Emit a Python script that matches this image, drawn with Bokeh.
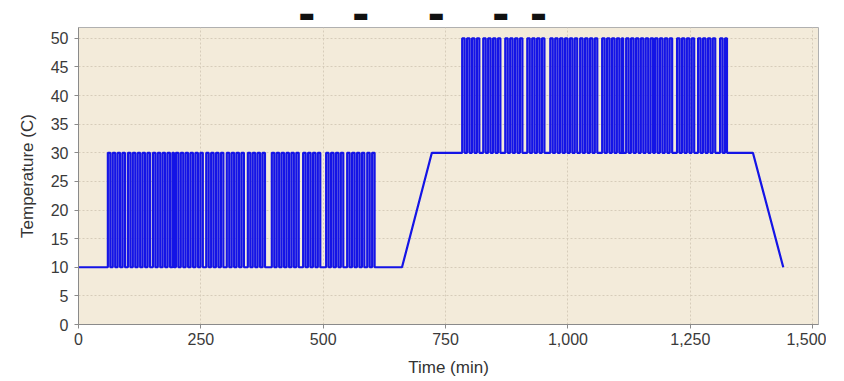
from bokeh.plotting import figure
from bokeh.models import Range1d, NumeralTickFormatter, FixedTicker, Title
from bokeh.embed import file_html
from bokeh.resources import INLINE

# ---- data ----
# cycling block 1 (10 <-> 30 C), start/end of each block of cycles (min)
r1_low, r1_high = 10, 30
r1_starts = [60, 101, 152, 199, 261, 303, 346, 395, 459, 506, 549, 590]
r1_ends = [97, 146, 195, 254, 299, 340, 387, 453, 500, 545, 586, 610]
# cycling block 2 (30 <-> 50 C)
r2_low, r2_high = 30, 50
r2_starts = [784, 827, 872, 917, 964, 1025, 1070, 1119, 1178, 1223, 1266, 1311]
r2_ends = [821, 866, 913, 958, 1019, 1062, 1113, 1174, 1219, 1264, 1305, 1325]
cycle_half_period = 5  # min between switches inside a block
# non-cycling profile points (min, C)
ramp_time = [661, 722, 1378, 1440]
ramp_temp = [10, 30, 30, 10]
start_time, start_temp = 0, 10

x_ticks = [0, 250, 500, 750, 1000, 1250, 1500]
y_ticks = [0, 5, 10, 15, 20, 25, 30, 35, 40, 45, 50]


def add_blocks(xs, ys, starts, ends, low, high, d):
    for s, e in zip(starts, ends):
        T = []
        t = s
        while t < e - d / 3:
            T.append(t)
            t += d
        if len(T) % 2 == 1:
            T.append(e)
        for i, tt in enumerate(T):
            prev = low if i % 2 == 0 else high
            new = high if i % 2 == 0 else low
            xs += [tt, tt]
            ys += [prev, new]


xs, ys = [start_time], [start_temp]
add_blocks(xs, ys, r1_starts, r1_ends, r1_low, r1_high, cycle_half_period)
xs += ramp_time[:2]
ys += ramp_temp[:2]
add_blocks(xs, ys, r2_starts, r2_ends, r2_low, r2_high, cycle_half_period)
xs += ramp_time[2:]
ys += ramp_temp[2:]

p = figure(width=826, height=381, output_backend="svg", toolbar_location=None,
           x_range=Range1d(0, 1512), y_range=Range1d(0, 51.9),
           min_border_left=78, min_border_right=8, min_border_top=27,
           min_border_bottom=57)
p.background_fill_color = "#F3EBDA"
p.border_fill_color = "white"
p.outline_line_color = "#B0B0B0"
p.outline_line_width = 1

p.line(xs, ys, line_color="#1414E6", line_width=2.2)

for ax in (p.xaxis[0], p.yaxis[0]):
    ax.axis_line_color = "#8A8A8A"
    ax.major_tick_line_color = "#8A8A8A"
    ax.major_tick_out = 4
    ax.major_tick_in = 0
    ax.minor_tick_line_color = None
    ax.major_label_text_font = "Liberation Sans"
    ax.major_label_text_font_size = "16px"
    ax.major_label_text_color = "#3A3A3A"
    ax.axis_label_text_font = "Liberation Sans"
    ax.axis_label_text_font_size = "17px"
    ax.axis_label_text_font_style = "normal"
    ax.axis_label_text_color = "#333333"

p.xaxis.ticker = FixedTicker(ticks=x_ticks)
p.yaxis.ticker = FixedTicker(ticks=y_ticks)
p.xaxis.formatter = NumeralTickFormatter(format="0,0")
p.xaxis.axis_label = "Time (min)"
p.yaxis.axis_label = "Temperature (C)"
p.xaxis.major_label_standoff = 4
p.yaxis.major_label_standoff = 6
p.xaxis.axis_label_standoff = 10
p.yaxis.axis_label_standoff = 11

p.xgrid.ticker = FixedTicker(ticks=x_ticks)
p.ygrid.ticker = FixedTicker(ticks=y_ticks)
for g in (p.xgrid[0], p.ygrid[0]):
    g.grid_line_color = "#D6CCBA"
    g.grid_line_dash = "2 2"
    g.grid_line_width = 1

# clipped title remnants at the top
nb = "\u00a0"
dash = "\u25ac"
title_text = dash + nb * 7 + dash + nb * 11 + dash + nb * 9 + dash + nb * 4 + dash
p.add_layout(Title(text=title_text, text_font="DejaVu Sans", text_font_size="17px",
                   text_color="#111111", text_font_style="normal", align="left",
                   vertical_align="top", offset=220, standoff=2), "above")

open("out.html", "w").write(file_html(p, INLINE))
